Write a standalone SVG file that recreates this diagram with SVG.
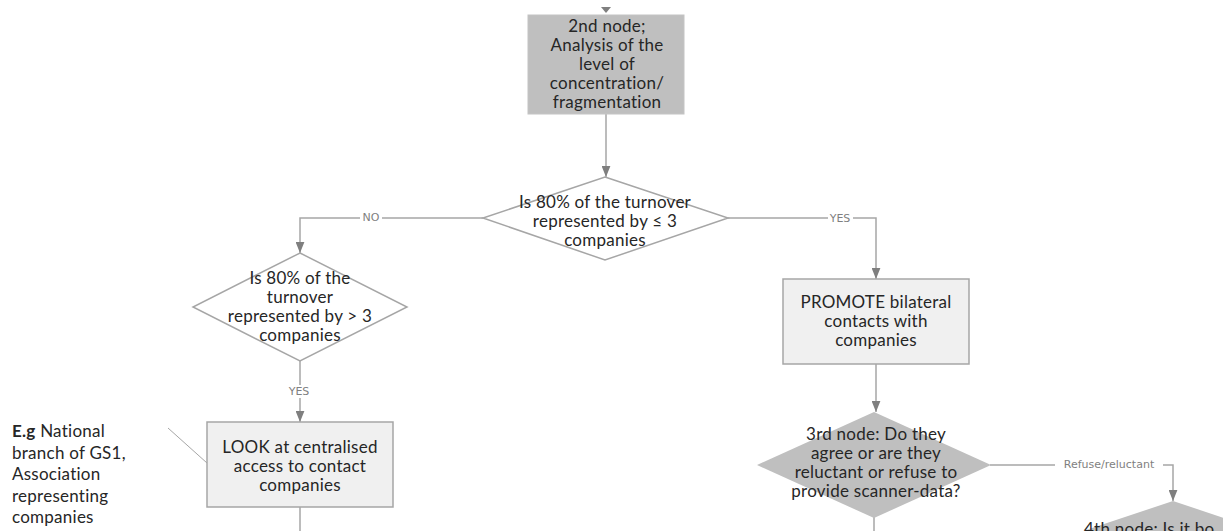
<svg xmlns="http://www.w3.org/2000/svg" width="1223" height="531" viewBox="0 0 1223 531">
<defs>
<style>
.t{font-family:Lato,"Liberation Sans",sans-serif;font-size:17px;letter-spacing:0.25px;fill:#262626;text-anchor:middle}
.a{font-family:Lato,"Liberation Sans",sans-serif;font-size:17px;letter-spacing:0.25px;fill:#262626}
.lbl{font-family:"DejaVu Sans","Liberation Sans",sans-serif;font-size:11px;fill:#7f7f7f;text-anchor:middle}
.c{fill:none;stroke:#a6a6a6;stroke-width:1.5}
.dark{fill:#bfbfbf;stroke:#c4c4c4;stroke-width:1}
.light{fill:#f0f0f0;stroke:#a6a6a6;stroke-width:1.5}
.dw{fill:#ffffff;stroke:#a6a6a6;stroke-width:1.5}
.dg{fill:#bfbfbf;stroke:none}
</style>
<marker id="ah" viewBox="0 0 10 8" refX="10" refY="4" markerWidth="11" markerHeight="9" markerUnits="userSpaceOnUse" orient="auto">
<path d="M0,0 L10,4 L0,8 Z" fill="#7f7f7f"/>
</marker>
</defs>
<rect width="1223" height="531" fill="#ffffff"/>

<g id="connectors">
<polygon points="601,7 611,7 606,13" fill="#7f7f7f"/>
<path class="c" d="M606,114 L606,177" marker-end="url(#ah)"/>
<path class="c" d="M483,218 L300,218 L300,253" marker-end="url(#ah)"/>
<path class="c" d="M728,218 L876,218 L876,279" marker-end="url(#ah)"/>
<path class="c" d="M300,361 L300,422" marker-end="url(#ah)"/>
<path class="c" d="M876,364 L876,412" marker-end="url(#ah)"/>
<path class="c" d="M990,465 L1173,465 L1173,501" marker-end="url(#ah)"/>
<path class="c" d="M300,507 L300,531"/>
<path class="c" d="M874,517 L874,531"/>
<path d="M168,428 L207,463" fill="none" stroke="#a6a6a6" stroke-width="1"/>
<rect x="360" y="211" width="22" height="13" fill="#ffffff"/>
<text class="lbl" x="371" y="221">NO</text>
<rect x="828" y="212" width="25" height="13" fill="#ffffff"/>
<text class="lbl" x="840" y="222">YES</text>
<rect x="286" y="385" width="25" height="13" fill="#ffffff"/>
<text class="lbl" x="299" y="395">YES</text>
<rect x="1055" y="458" width="108" height="13" fill="#ffffff"/>
<text class="lbl" x="1109" y="468">Refuse/reluctant</text>
</g>

<g id="node2">
<rect class="dark" x="528" y="15" width="156" height="99"/>
<text class="t" x="607" y="32">2nd node;</text>
<text class="t" x="607" y="51">Analysis of the</text>
<text class="t" x="607" y="70">level of</text>
<text class="t" x="607" y="89">concentration/</text>
<text class="t" x="607" y="108">fragmentation</text>
</g>

<g id="decision1">
<polygon class="dw" points="605,177 728,218 605,260 483,218"/>
<text class="t" x="605" y="208">Is 80% of the turnover</text>
<text class="t" x="605" y="227">represented by ≤ 3</text>
<text class="t" x="605" y="246">companies</text>
</g>

<g id="decision2">
<polygon class="dw" points="300,253 407,307 300,361 193,307"/>
<text class="t" x="300" y="284">Is 80% of the</text>
<text class="t" x="300" y="303">turnover</text>
<text class="t" x="300" y="322">represented by &gt; 3</text>
<text class="t" x="300" y="341">companies</text>
</g>

<g id="promote">
<rect class="light" x="783" y="279" width="186" height="85"/>
<text class="t" x="876" y="308">PROMOTE bilateral</text>
<text class="t" x="876" y="327">contacts with</text>
<text class="t" x="876" y="346">companies</text>
</g>

<g id="look">
<rect class="light" x="207" y="422" width="186" height="85"/>
<text class="t" x="300" y="453">LOOK at centralised</text>
<text class="t" x="300" y="472">access to contact</text>
<text class="t" x="300" y="491">companies</text>
</g>

<g id="node3">
<polygon class="dg" points="874,412 991,465 874,518 757,465"/>
<text class="t" x="876" y="440">3rd node: Do they</text>
<text class="t" x="876" y="459">agree or are they</text>
<text class="t" x="876" y="478">reluctant or refuse to</text>
<text class="t" x="876" y="497">provide scanner-data?</text>
</g>

<g id="node4">
<polygon class="dg" points="1173,501 1323,551 1173,601 1023,551"/>
<text class="a" x="1084" y="535">4th node: Is it bo</text>
</g>

<g id="note">
<text class="a" x="12" y="437"><tspan font-weight="bold">E.g</tspan> National</text>
<text class="a" x="12" y="459">branch of GS1,</text>
<text class="a" x="12" y="480">Association</text>
<text class="a" x="12" y="502">representing</text>
<text class="a" x="12" y="523">companies</text>
</g>
</svg>
